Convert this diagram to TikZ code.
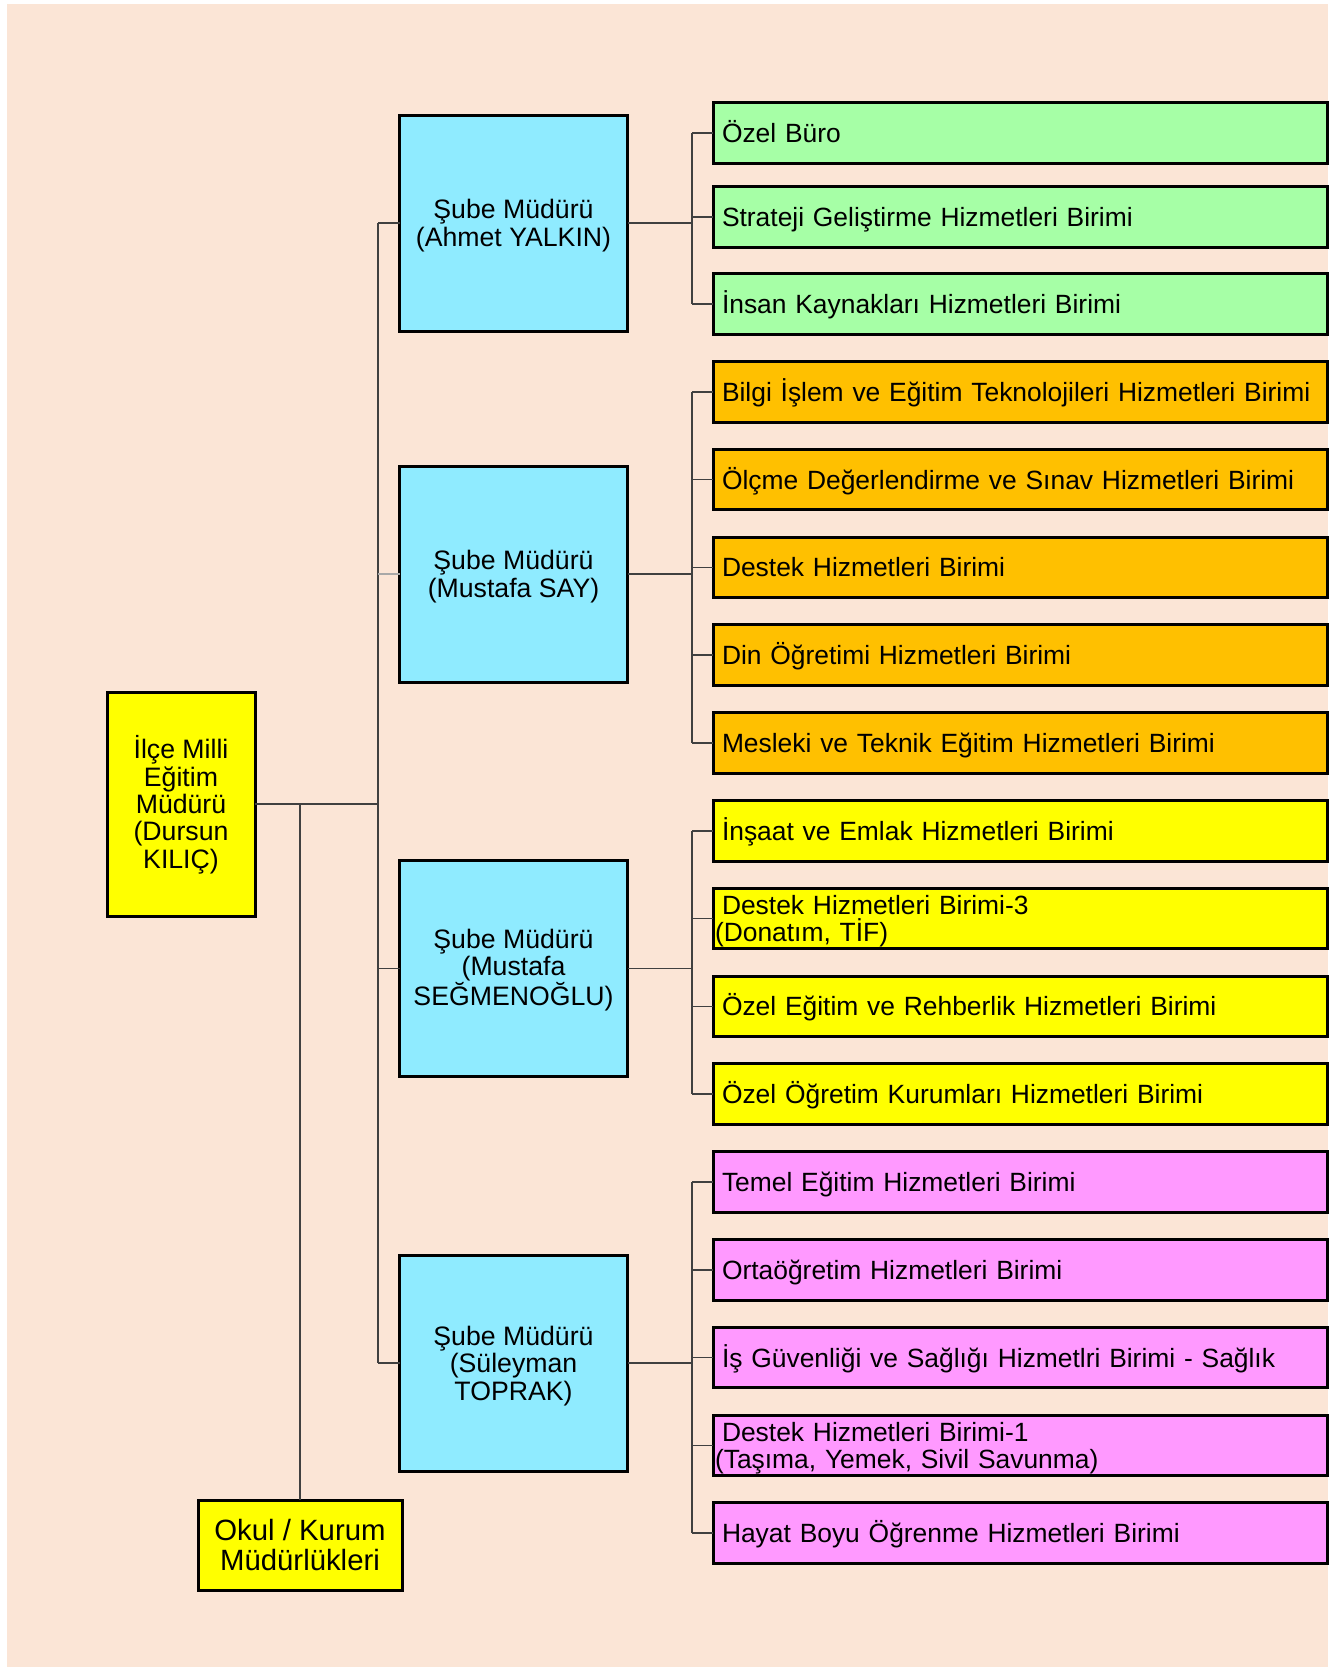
\documentclass[tikz,border=0pt]{standalone}
\usepackage{fontspec}
\setmainfont{Liberation Sans}
\newdimen\pxu \pxu=0.75pt
\definecolor{peach}{HTML}{FBE5D6}
\definecolor{sky}{HTML}{8FEBFF}
\definecolor{lgreen}{HTML}{A6FFA6}
\definecolor{amber}{HTML}{FFC000}
\definecolor{yel}{HTML}{FFFF00}
\definecolor{pinkish}{HTML}{FF99FF}
\definecolor{connc}{HTML}{404040}
\definecolor{connl}{HTML}{A8A8A8}
\begin{document}
\begin{tikzpicture}[x=0.75pt,y=-0.75pt,
  box/.style={draw=black, line width=3\pxu, inner sep=0pt, outer sep=0pt},
  unitbox/.style={box, minimum width=614\pxu, minimum height=60.5\pxu, text width=610\pxu,
    inner xsep=2\pxu, align=left, font=\fontsize{19.8}{20.6}\selectfont,
    text height=14.2pt, text depth=0pt},
  twoline/.style={text depth=20.6pt},
  chief/.style={box, fill=sky, minimum width=228\pxu, minimum height=216\pxu, align=center,
    font=\fontsize{20}{20.6}\selectfont, text depth=0pt},
  conn/.style={draw=connc, line width=1.5\pxu},
  connlight/.style={draw=connl, line width=2\pxu}
]
\useasboundingbox (0,0) rectangle (1338,1667);
\fill[peach] (7,4) rectangle (1328,1667);

% main nodes
\node[box, fill=yel, minimum width=148\pxu, minimum height=224\pxu, align=center,
  font=\fontsize{20}{20.5}\selectfont, text height=96.3pt, text depth=0pt]
  (root) at (181,804) {İlçe Milli\\Eğitim\\Müdürü\\(Dursun\\KILIÇ)};
\node[box, fill=yel, minimum width=204\pxu, minimum height=90\pxu, align=center,
  font=\fontsize{22}{22.5}\selectfont, text height=38.25pt, text depth=0pt]
  (okul) at (300,1545) {Okul / Kurum\\Müdürlükleri};

\node[chief, text height=34.9pt] (b1) at (513.5,223) {Şube Müdürü\\(Ahmet YALKIN)};
\node[chief, text height=34.9pt] (b2) at (513.5,574) {Şube Müdürü\\(Mustafa SAY)};
\node[chief, text height=55.5pt] (b3) at (513.5,968.7) {Şube Müdürü\\(Mustafa\\SEĞMENOĞLU)};
\node[chief, text height=55.5pt] (b4) at (513.5,1363) {Şube Müdürü\\(Süleyman\\TOPRAK)};

% unit boxes
\node[unitbox, fill=lgreen] (r1) at (1020,133) {\hspace*{7\pxu}Özel Büro};
\node[unitbox, fill=lgreen] (r2) at (1020,217) {\hspace*{7\pxu}Strateji Geliştirme Hizmetleri Birimi};
\node[unitbox, fill=lgreen] (r3) at (1020,304) {\hspace*{7\pxu}İnsan Kaynakları Hizmetleri Birimi};
\node[unitbox, fill=amber] (r4) at (1020,391.8) {\hspace*{7\pxu}Bilgi İşlem ve Eğitim Teknolojileri Hizmetleri Birimi};
\node[unitbox, fill=amber] (r5) at (1020,479.6) {\hspace*{7\pxu}Ölçme Değerlendirme ve Sınav Hizmetleri Birimi};
\node[unitbox, fill=amber] (r6) at (1020,567.4) {\hspace*{7\pxu}Destek Hizmetleri Birimi};
\node[unitbox, fill=amber] (r7) at (1020,655.2) {\hspace*{7\pxu}Din Öğretimi Hizmetleri Birimi};
\node[unitbox, fill=amber] (r8) at (1020,743) {\hspace*{7\pxu}Mesleki ve Teknik Eğitim Hizmetleri Birimi};
\node[unitbox, fill=yel] (r9) at (1020,830.8) {\hspace*{7\pxu}İnşaat ve Emlak Hizmetleri Birimi};
\node[unitbox, twoline, fill=yel] (r10) at (1020,918.6) {\hspace*{7\pxu}Destek Hizmetleri Birimi-3\\(Donatım, TİF)};
\node[unitbox, fill=yel] (r11) at (1020,1006.4) {\hspace*{7\pxu}Özel Eğitim ve Rehberlik Hizmetleri Birimi};
\node[unitbox, fill=yel] (r12) at (1020,1094.2) {\hspace*{7\pxu}Özel Öğretim Kurumları Hizmetleri Birimi};
\node[unitbox, fill=pinkish] (r13) at (1020,1182) {\hspace*{7\pxu}Temel Eğitim Hizmetleri Birimi};
\node[unitbox, fill=pinkish] (r14) at (1020,1269.8) {\hspace*{7\pxu}Ortaöğretim Hizmetleri Birimi};
\node[unitbox, fill=pinkish] (r15) at (1020,1357.6) {\hspace*{7\pxu}İş Güvenliği ve Sağlığı Hizmetlri Birimi - Sağlık};
\node[unitbox, twoline, fill=pinkish] (r16) at (1020,1445.4) {\hspace*{7\pxu}Destek Hizmetleri Birimi-1\\(Taşıma, Yemek, Sivil Savunma)};
\node[unitbox, fill=pinkish] (r17) at (1020,1533.2) {\hspace*{7\pxu}Hayat Boyu Öğrenme Hizmetleri Birimi};

% bus x positions
\coordinate (mbx) at (378,0);
\coordinate (rbx) at (692,0);

% main connectors
\draw[conn] (root.east) -- (root.east -| mbx);
\draw[conn] (okul.north) -- (okul.north |- root.east);
\draw[conn] (b1.west -| mbx) -- (b4.west -| mbx);
\draw[conn] (b1.west -| mbx) -- (b1.west);
\draw[connlight] (b2.west -| mbx) -- (b2.west);
\draw[conn] (b3.west -| mbx) -- (b3.west);
\draw[conn] (b4.west -| mbx) -- (b4.west);

% group connectors
\draw[conn] (b1.east) -- (b1.east -| rbx);
\draw[conn] (r1.west -| rbx) -- (r3.west -| rbx);
\foreach \n in {r1,r2,r3} {\draw[conn] (\n.west -| rbx) -- (\n.west);}
\draw[conn] (b2.east) -- (b2.east -| rbx);
\draw[conn] (r4.west -| rbx) -- (r8.west -| rbx);
\foreach \n in {r4,r5,r6,r7,r8} {\draw[conn] (\n.west -| rbx) -- (\n.west);}
\draw[conn] (b3.east) -- (b3.east -| rbx);
\draw[conn] (r9.west -| rbx) -- (r12.west -| rbx);
\foreach \n in {r9,r10,r11,r12} {\draw[conn] (\n.west -| rbx) -- (\n.west);}
\draw[conn] (b4.east) -- (b4.east -| rbx);
\draw[conn] (r13.west -| rbx) -- (r17.west -| rbx);
\foreach \n in {r13,r14,r15,r16,r17} {\draw[conn] (\n.west -| rbx) -- (\n.west);}
\end{tikzpicture}
\end{document}
